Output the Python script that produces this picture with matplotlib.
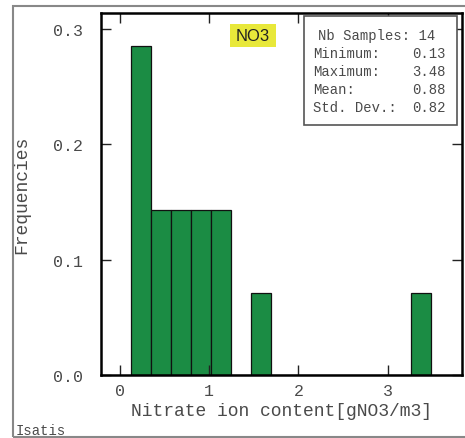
import numpy as np
import matplotlib
matplotlib.use('Agg')
import matplotlib.pyplot as plt
from matplotlib.patches import Rectangle

# histogram of NO3 samples: 15 equal bins from min to max
x_min, x_max = 0.13, 3.48
counts = [4, 2, 2, 2, 2, 0, 1, 0, 0, 0, 0, 0, 0, 0, 1]
n_samples = 14
stat_names = ['Minimum:', 'Maximum:', 'Mean:', 'Std. Dev.:']
stat_values = ['0.13', '3.48', '0.88', '0.82']
x_ticks = [0, 1, 2, 3]
y_ticks = [0.0, 0.1, 0.2, 0.3]

edges = np.linspace(x_min, x_max, len(counts) + 1)
freqs = np.array(counts) / n_samples

mono = 'Liberation Mono'
txt_col = '#4a4a4a'

fig = plt.figure(figsize=(4.65, 4.39), dpi=100)
ax = fig.add_axes([101/465, 1 - 376/439, 361/465, 362/439])

ax.bar(edges[:-1], freqs, width=np.diff(edges), align='edge',
       color='#1b8c44', edgecolor='#111111', linewidth=0.9)

ax.set_xlim(-0.21, 3.83)
ax.set_ylim(0, 0.314)
ax.set_xticks(x_ticks)
ax.set_yticks(y_ticks)
ax.set_yticklabels(['%.1f' % v for v in y_ticks])
ax.tick_params(direction='in', length=7, width=1, top=True, right=True,
               labelsize=12, colors='#222222', labelcolor=txt_col, pad=6)
for lab in ax.get_xticklabels() + ax.get_yticklabels():
    lab.set_fontfamily(mono)
ax.tick_params(axis='y', pad=13)
for s in ax.spines.values():
    s.set_linewidth(1.8)
    s.set_color('black')

ax.set_xlabel('Nitrate ion content[gNO3/m3]', fontfamily=mono, fontsize=13,
              color=txt_col, labelpad=3)
ax.set_ylabel('Frequencies', fontfamily=mono, fontsize=13, color=txt_col,
              labelpad=16)

# variable name tag
fig.add_artist(Rectangle((230/465, 1 - 48/439), 46/465, 23/439,
                         transform=fig.transFigure, facecolor='#e8e83a',
                         edgecolor='none'))
fig.text(253/465, 1 - 36.5/439, 'NO3', fontsize=12, fontfamily='Liberation Sans',
         color='#222222', ha='center', va='center')

# statistics box
ax.add_patch(Rectangle((304/465, 1 - 126/439), 153/465, 109/439,
                       transform=fig.transFigure, facecolor='white',
                       edgecolor='#555555', linewidth=1.2, zorder=5))
fig.text(377/465, 1 - 36/439, 'Nb Samples: %d' % n_samples, fontfamily=mono,
         fontsize=10, color=txt_col, ha='center', va='center', zorder=6)
for i, (name, val) in enumerate(zip(stat_names, stat_values)):
    y = 1 - (54 + i * 18) / 439
    fig.text(313/465, y, name, fontfamily=mono, fontsize=10, color=txt_col,
             va='center', zorder=6)
    fig.text(446/465, y, val, fontfamily=mono, fontsize=10, color=txt_col,
             ha='right', va='center', zorder=6)

# outer frame and footer
fig.add_artist(Rectangle((13/465, 1/439), 460/465, 431/439,
                         transform=fig.transFigure, facecolor='none',
                         edgecolor='#888888', linewidth=1.5))
fig.text(16/465, 1 - 431/439, 'Isatis', fontfamily=mono, fontsize=10,
         color=txt_col, va='center')

fig.savefig('out.png', dpi=100)
